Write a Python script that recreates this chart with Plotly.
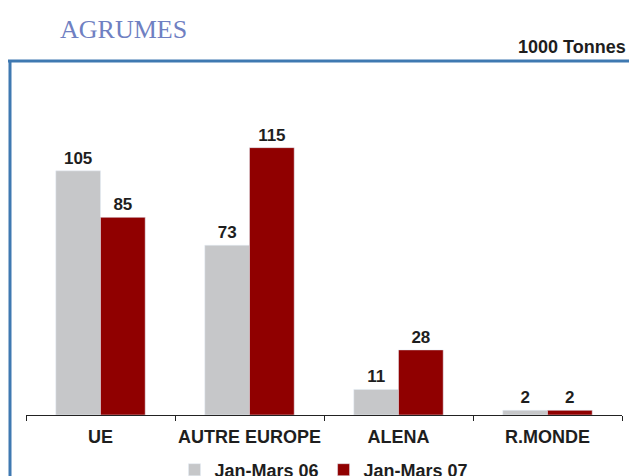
import plotly.graph_objects as go

categories = ['UE', 'AUTRE EUROPE', 'ALENA', 'R.MONDE']
jan_mars_06 = [105, 73, 11, 2]
jan_mars_07 = [85, 115, 28, 2]

# la page a une marge de 8 px : on travaille en coordonnées fenêtre
OFF = 8
W, H = 637 - 2 * OFF, 476 - OFF
L, R = 26 - OFF, W - (622 - OFF)
T, B = 136 - OFF, H - (415 - OFF)
pw, ph = W - L - R, H - T - B


def px_x(x):
    return (x - OFF - L) / pw


def px_y(y):
    return (H - B - (y - OFF)) / ph


txt = '#1e1e1e'
lab_font = dict(family='Arial, Liberation Sans', size=17, color=txt)

fig = go.Figure()
fig.add_trace(go.Bar(
    x=categories, y=jan_mars_06, name='<b>Jan-Mars 06</b>',
    marker_color='#c6c7c9', text=jan_mars_06, texttemplate='<b>%{text}</b>',
    textposition='outside', textfont=lab_font, cliponaxis=False,
))
fig.add_trace(go.Bar(
    x=categories, y=jan_mars_07, name='<b>Jan-Mars 07</b>',
    marker_color='#900000', text=jan_mars_07, texttemplate='<b>%{text}</b>',
    textposition='outside', textfont=lab_font, cliponaxis=False,
))

fig.update_layout(
    width=W, height=H, barmode='group', bargap=0.4, bargroupgap=0,
    margin=dict(l=L, r=R, t=T, b=B),
    paper_bgcolor='white', plot_bgcolor='white',
    font=dict(family='Arial, Liberation Sans', color=txt),
    showlegend=True,
    legend=dict(orientation='h', x=0.5, xanchor='center',
                yref='container', y=(H - (470 - OFF)) / H, yanchor='middle',
                font=dict(size=18, color=txt), itemwidth=30, traceorder='normal'),
)
fig.update_xaxes(
    showline=True, linecolor='#222222', linewidth=1,
    ticks='outside', ticklen=5, tickcolor='#222222', tickson='boundaries',
    tickvals=categories, ticktext=[f'<b>{c}</b>' for c in categories],
    tickfont=dict(size=18, color=txt), tickangle=0, automargin=False,
    ticklabelstandoff=5, showgrid=False,
)
fig.update_yaxes(range=[0, 120], visible=False, showgrid=False)

# cadre bleu
frame = '#3f79b1'
fig.add_shape(type='line', xref='paper', yref='paper',
              x0=px_x(8), x1=px_x(640), y0=px_y(61), y1=px_y(61),
              line=dict(color=frame, width=3))
fig.add_shape(type='line', xref='paper', yref='paper',
              x0=px_x(10), x1=px_x(10), y0=px_y(60), y1=px_y(480),
              line=dict(color=frame, width=3))

fig.add_annotation(text='AGRUMES', xref='paper', yref='paper',
                   x=px_x(58), y=px_y(29), xanchor='left', yanchor='middle',
                   showarrow=False,
                   font=dict(family='Liberation Serif, Times New Roman', size=26, color='#6f80c2'))
fig.add_annotation(text='<b>1000 Tonnes</b>', xref='paper', yref='paper',
                   x=px_x(628), y=px_y(47), xanchor='right', yanchor='middle',
                   showarrow=False, font=dict(size=18, color=txt))

fig.write_html('out.html')
